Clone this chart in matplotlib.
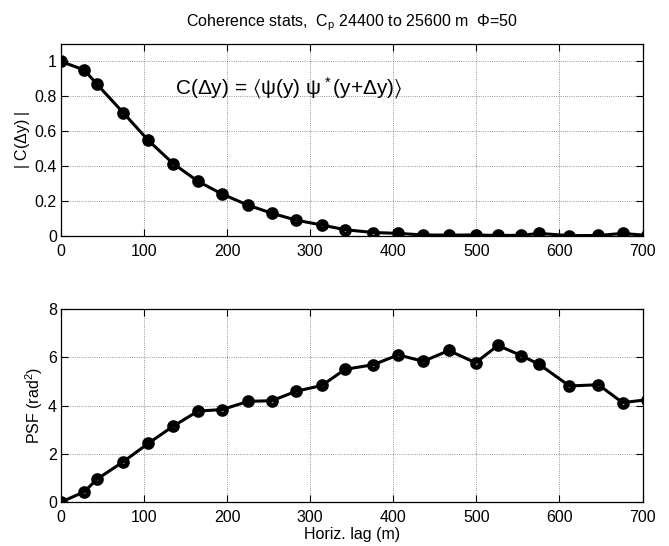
import numpy as np
import matplotlib
matplotlib.use('Agg')
import matplotlib.pyplot as plt

plt.rcParams['font.family'] = ['Liberation Sans', 'DejaVu Sans']
plt.rcParams['mathtext.fontset'] = 'custom'
plt.rcParams['mathtext.rm'] = 'Liberation Sans'
plt.rcParams['mathtext.it'] = 'Liberation Sans'
plt.rcParams['mathtext.sf'] = 'Liberation Sans'
plt.rcParams['mathtext.fallback'] = 'stixsans'

# ---- data
lag = [0, 28, 43, 75, 105, 135, 165, 194, 225, 254, 283, 314, 342, 376,
       406, 436, 467, 499, 526, 554, 576, 612, 647, 676, 706]
coh = [1.0, 0.951, 0.871, 0.706, 0.548, 0.415, 0.313, 0.24, 0.177, 0.13,
       0.091, 0.063, 0.036, 0.02, 0.015, 0.006, 0.005, 0.006, 0.003, 0.004,
       0.015, 0.002, 0.003, 0.015, 0.003]
psf = [0.0, 0.42, 0.94, 1.67, 2.43, 3.14, 3.77, 3.83, 4.17, 4.2, 4.59,
       4.83, 5.5, 5.69, 6.1, 5.83, 6.28, 5.77, 6.49, 6.07, 5.7, 4.81,
       4.86, 4.12, 4.24]

xticks = [0, 100, 200, 300, 400, 500, 600, 700]
yticks_top = [0, 0.2, 0.4, 0.6, 0.8, 1.0]
yticklabels_top = ['0', '0.2', '0.4', '0.6', '0.8', '1']
yticks_bot = [0, 2, 4, 6, 8]

title_txt = r'Coherence stats,  C$_\mathrm{p}$ 24400 to 25600 m  $\Phi$=50'
eq_txt = r'C($\Delta$y) = $⟨\psi$(y) $\psi^*$(y+$\Delta$y)$⟩$'

W, H = 669, 546
fig = plt.figure(figsize=(W / 100, H / 100), dpi=100)
ax1 = fig.add_axes([61 / W, 1 - 236 / H, 581.5 / W, 192 / H])
ax2 = fig.add_axes([61 / W, 1 - 502 / H, 581.5 / W, 193 / H])

style = dict(color='k', lw=2.2, marker='o', ms=5.5, mew=3.6, mfc='none',
             mec='k', clip_on=True)


def dress(ax):
    ax.set_xlim(0, 700)
    ax.set_xticks(xticks)
    ax.tick_params(direction='in', top=True, right=True, length=5,
                   width=0.8, labelsize=11.5)
    ax.tick_params(axis='x', pad=6)
    ax.tick_params(axis='y', pad=3)
    ax.grid(True, ls=':', color='k', lw=0.6, alpha=0.55)
    for sp in ax.spines.values():
        sp.set_linewidth(0.9)


ax1.plot(lag, coh, **style)
dress(ax1)
ax1.set_ylim(0, 1.1)
ax1.set_yticks(yticks_top)
ax1.set_yticklabels(yticklabels_top)
ax1.set_ylabel(r'| C($\Delta$y) |', fontsize=11.5, labelpad=2)
ax1.text(137, 0.85, eq_txt, fontsize=15, va='center', ha='left')
ax1.set_title(title_txt, fontsize=11.5, pad=13)

ax2.plot(lag, psf, **style)
dress(ax2)
ax2.set_ylim(0, 8)
ax2.set_yticks(yticks_bot)
ax2.set_ylabel(r'PSF (rad$^2$)', fontsize=11.5, labelpad=2)
ax2.set_xlabel('Horiz. lag (m)', fontsize=11.5, labelpad=1)

fig.savefig('out.png', dpi=100)
